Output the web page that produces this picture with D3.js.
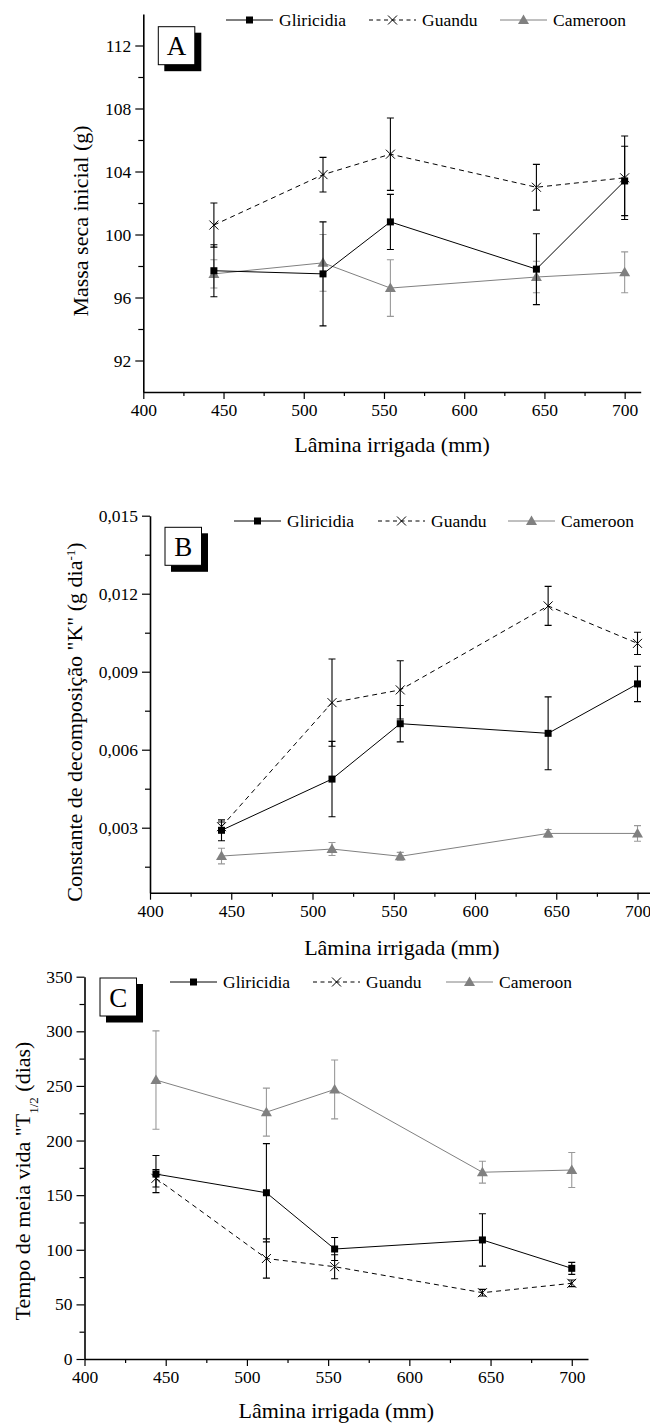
<!DOCTYPE html>
<html>
<head>
<meta charset="utf-8">
<script src="https://cdn.jsdelivr.net/npm/d3@7"></script>
<style>
body { margin: 0; background: #fff; }
svg text { font-family: "Liberation Serif", "Times New Roman", serif; fill: #000; }
</style>
</head>
<body>
<svg id="paper" width="650" height="1424"></svg>
<script>
// irrigation depths (x) shared by the three panels
let lamina = [444, 512, 554, 645, 700];
let seriesNames = ["Gliricidia", "Guandu", "Cameroon"];
let xTicks = [400, 450, 500, 550, 600, 650, 700];
let xMinor = [425, 475, 525, 575, 625, 675];

// A - initial dry mass (g)
let massaGliricidia = [97.7, 97.5, 100.8, 97.8, 103.4];
let massaGliricidiaErr = [1.65, 3.3, 1.75, 2.25, 2.2];
let massaGuandu = [100.6, 103.8, 105.1, 103.0, 103.6];
let massaGuanduErr = [1.4, 1.1, 2.3, 1.45, 2.65];
let massaCameroon = [97.5, 98.2, 96.6, 97.3, 97.6];
let massaCameroonErr = [0.9, 1.8, 1.8, 1.0, 1.3];
let massaTicks = [92, 96, 100, 104, 108, 112];
let massaMinor = [94, 98, 102, 106, 110];

// B - decomposition constant K
let kGliricidia = [0.0029, 0.00487, 0.0070, 0.00663, 0.00853];
let kGliricidiaErr = [0.0004, 0.00145, 0.0007, 0.0014, 0.00068];
let kGuandu = [0.00304, 0.00781, 0.0083, 0.01153, 0.01009];
let kGuanduErr = [0.00018, 0.00168, 0.00112, 0.00075, 0.00043];
let kCameroon = [0.00191, 0.00218, 0.0019, 0.00278, 0.00278];
let kCameroonErr = [0.0003, 0.00025, 0.00015, 0.00015, 0.0003];
let kTicks = [0.003, 0.006, 0.009, 0.012, 0.015];
let kMinor = [0.0015, 0.0045, 0.0075, 0.0105, 0.0135];

// C - half life T1/2 (days)
let tGliricidia = [169.3, 152.2, 100.7, 109, 83];
let tGliricidiaErr = [17, 45, 10.5, 24, 5.5];
let tGuandu = [165.4, 92, 84.5, 60.7, 69.3];
let tGuanduErr = [8, 18, 11, 3, 3];
let tCameroon = [255.4, 226, 246.8, 171, 173];
let tCameroonErr = [45, 22, 27, 10, 16];
let tTicks = [0, 50, 100, 150, 200, 250, 300, 350];
let tMinor = [25, 75, 125, 175, 225, 275, 325];

let styles = {
    Gliricidia: {color: "#000", barColor: "#000", dash: null, marker: "square"},
    Guandu: {color: "#000", barColor: "#000", dash: "5,4", marker: "x"},
    Cameroon: {color: "#808080", barColor: "#999", dash: null, marker: "triangle"}
};

let panels = [
    {
        letter: "A", left: 143.3, right: 640.7, top: 14, bottom: 392,
        yDomain: [90, 114], yTicks: massaTicks, yMinor: massaMinor,
        fmt: d => d,
        values: [massaGliricidia, massaGuandu, massaCameroon],
        errors: [massaGliricidiaErr, massaGuanduErr, massaCameroonErr],
        box: [158.3, 26.7], legend: [226, 369, 500], legendY: 20,
        ylabel: [{t: "Massa seca inicial (g)"}], ylabelX: 88, ylabelY: 221,
        xlabelY: 452
    },
    {
        letter: "B", left: 150, right: 653.75, top: 515.7, bottom: 892.7,
        yDomain: [0.0005, 0.015], yTicks: kTicks, yMinor: kMinor,
        fmt: d => d3.format(".3f")(d).replace(".", ","),
        values: [kGliricidia, kGuandu, kCameroon],
        errors: [kGliricidiaErr, kGuanduErr, kCameroonErr],
        box: [165, 527.3], legend: [234, 378, 508], legendY: 521,
        ylabel: [{t: "Constante de decomposição \"K\" (g dia"}, {t: "-1", sup: true}, {t: ")"}],
        ylabelX: 82, ylabelY: 722,
        xlabelY: 955
    },
    {
        letter: "C", left: 84.5, right: 588, top: 976.7, bottom: 1359,
        yDomain: [0, 350], yTicks: tTicks, yMinor: tMinor,
        fmt: d => d,
        values: [tGliricidia, tGuandu, tCameroon],
        errors: [tGliricidiaErr, tGuanduErr, tCameroonErr],
        box: [100, 978], legend: [170, 313, 446], legendY: 982,
        ylabel: [{t: "Tempo de meia vida \"T"}, {t: "1/2", sub: true}, {t: " (dias)"}],
        ylabelX: 30, ylabelY: 1181,
        xlabelY: 1418
    }
];

let svg = d3.select("#paper");

function drawMarker(g, type, cx, cy) {
    if (type === "square") {
        g.append("rect").attr("x", cx - 3.5).attr("y", cy - 3.5)
            .attr("width", 7).attr("height", 7).attr("fill", "#000");
    } else if (type === "triangle") {
        g.append("path")
            .attr("d", `M${cx},${cy - 5.5}L${cx + 5.5},${cy + 4}L${cx - 5.5},${cy + 4}Z`)
            .attr("fill", "#808080");
    } else {
        g.append("path")
            .attr("d", `M${cx - 4.5},${cy - 4.5}L${cx + 4.5},${cy + 4.5}M${cx - 4.5},${cy + 4.5}L${cx + 4.5},${cy - 4.5}`)
            .attr("stroke", "#000").attr("stroke-width", 1).attr("fill", "none");
    }
}

function drawPanel(p) {
    let g = svg.append("g");
    let x = d3.scaleLinear().domain([400, 710]).range([p.left, p.right]);
    let y = d3.scaleLinear().domain(p.yDomain).range([p.bottom, p.top]);

    // minor ticks
    g.append("g").attr("transform", `translate(0,${p.bottom})`)
        .call(d3.axisBottom(x).tickValues(xMinor).tickSize(4).tickFormat("").tickSizeOuter(0))
        .call(a => a.select(".domain").remove());
    g.append("g").attr("transform", `translate(${p.left},0)`)
        .call(d3.axisLeft(y).tickValues(p.yMinor).tickSize(5).tickFormat("").tickSizeOuter(0))
        .call(a => a.select(".domain").remove());

    let xa = g.append("g").attr("transform", `translate(0,${p.bottom})`)
        .call(d3.axisBottom(x).tickValues(xTicks).tickSize(7).tickPadding(5).tickSizeOuter(0));
    let ya = g.append("g").attr("transform", `translate(${p.left},0)`)
        .call(d3.axisLeft(y).tickValues(p.yTicks).tickSize(8).tickPadding(4).tickSizeOuter(0).tickFormat(p.fmt));
    [xa, ya].forEach(a => {
        a.selectAll("text").style("font-size", "17.5px").style("font-family", "Liberation Serif, serif");
        a.select(".domain").attr("stroke-width", 1.6);
        a.selectAll(".tick line").attr("stroke-width", 1.2);
    });
    g.selectAll(".tick line").attr("stroke-width", 1.2);

    // series: lines, error bars, markers
    [2, 1, 0].forEach(si => {
        let name = seriesNames[si];
        let st = styles[name];
        let pts = lamina.map((l, i) => ({x: l, v: p.values[si][i], e: p.errors[si][i]}));
        g.append("path").datum(pts)
            .attr("d", d3.line().x(d => x(d.x)).y(d => y(d.v)))
            .attr("fill", "none").attr("stroke", st.color).attr("stroke-width", 1)
            .attr("stroke-dasharray", st.dash);
        pts.forEach(d => {
            let cx = x(d.x), y1 = y(d.v + d.e), y2 = y(d.v - d.e);
            g.append("path")
                .attr("d", `M${cx},${y1}V${y2}M${cx - 3.5},${y1}H${cx + 3.5}M${cx - 3.5},${y2}H${cx + 3.5}`)
                .attr("stroke", st.barColor).attr("stroke-width", 1.1).attr("fill", "none");
        });
        pts.forEach(d => drawMarker(g, st.marker, x(d.x), y(d.v)));
    });

    // legend
    seriesNames.forEach((name, i) => {
        let st = styles[name];
        let lx = p.legend[i], ly = p.legendY;
        g.append("line").attr("x1", lx).attr("x2", lx + 47).attr("y1", ly).attr("y2", ly)
            .attr("stroke", st.color).attr("stroke-width", 1).attr("stroke-dasharray", st.dash ? "4,3.5" : null);
        drawMarker(g, st.marker, lx + 23.5, ly);
        g.append("text").attr("x", lx + 53).attr("y", ly + 6)
            .style("font-size", "17.5px").text(name);
    });

    // panel letter box with shadow
    g.append("rect").attr("x", p.box[0] + 6).attr("y", p.box[1] + 6)
        .attr("width", 37).attr("height", 38.5).attr("fill", "#000");
    g.append("rect").attr("x", p.box[0]).attr("y", p.box[1])
        .attr("width", 36.5).attr("height", 38).attr("fill", "#fff")
        .attr("stroke", "#000").attr("stroke-width", 1);
    g.append("text").attr("x", p.box[0] + 18.25).attr("y", p.box[1] + 28.5)
        .attr("text-anchor", "middle").style("font-size", "27px").text(p.letter);

    // axis titles
    g.append("text").attr("x", (p.left + p.right) / 2).attr("y", p.xlabelY)
        .attr("text-anchor", "middle").style("font-size", "22px").text("Lâmina irrigada (mm)");
    let yl = g.append("text")
        .attr("transform", `translate(${p.ylabelX},${p.ylabelY}) rotate(-90)`)
        .attr("text-anchor", "middle").style("font-size", "22px");
    p.ylabel.forEach(part => {
        let ts = yl.append("tspan").text(part.t);
        if (part.sup) ts.style("font-size", "13px").attr("baseline-shift", "super");
        if (part.sub) ts.style("font-size", "13px").attr("baseline-shift", "sub");
    });
}

panels.forEach(drawPanel);
</script>
</body>
</html>
